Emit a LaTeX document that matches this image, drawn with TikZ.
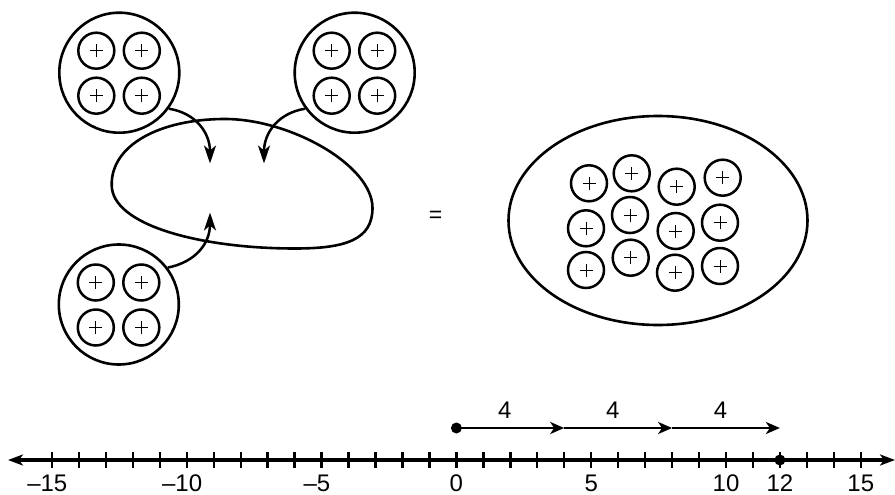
\documentclass[tikz,border=0pt]{standalone}
\usepackage{fontspec}
\setmainfont{Liberation Sans}
\usetikzlibrary{arrows.meta,shapes.geometric}
\begin{document}
\begin{tikzpicture}[x=1pt,y=-1pt,
  big/.style={circle,draw,line width=2.6pt,minimum size=120pt,inner sep=0pt},
  pc/.style={circle,draw,line width=2.5pt,minimum size=36pt,inner sep=0pt,
    path picture={\draw[line width=1pt]
      ([xshift=-6.5pt]path picture bounding box.center) -- ([xshift=6.5pt]path picture bounding box.center)
      ([yshift=-6.5pt]path picture bounding box.center) -- ([yshift=6.5pt]path picture bounding box.center);}},
  conn/.style={line width=2.5pt,-{Stealth[length=18pt,width=12pt,inset=5pt]}},
  jump/.style={line width=2.8pt,-{Stealth[length=14pt,width=12pt,inset=4pt]}},
  lbl/.style={font=\fontsize{24}{28}\selectfont,inner sep=0pt,anchor=base},
  dotc/.style={circle,fill,inner sep=0pt,minimum size=11pt},
]
\useasboundingbox (0,0) rectangle (895,495);

% three groups of four
\node[big] (A) at (119.3,72.7) {};
\node[big] (B) at (354.7,72.7) {};
\node[big] (C) at (118.8,304.5) {};
\foreach \g in {A,B,C}{
  \node[pc] (\g1) at ([shift={(-23,-22)}]\g) {};
  \node[pc] (\g2) at ([shift={(22.5,-22)}]\g) {};
  \node[pc] (\g3) at ([shift={(-23,23)}]\g) {};
  \node[pc] (\g4) at ([shift={(22.5,23)}]\g) {};
}

% blob
\draw[line width=2.6pt] (111.7,185)
  .. controls (111,145) and (160,119) .. (225,119)
  .. controls (290,119) and (372.5,165) .. (372.5,208)
  .. controls (372.5,240) and (345,248.5) .. (295,248.5)
  .. controls (200,248.5) and (111.7,225) .. cycle;

\coordinate (t1) at (210,163.5);
\coordinate (t2) at (264,163.5);
\coordinate (t3) at (210,212.5);
\draw[conn] (A.-36) .. controls (196,113) and (210,133) .. (t1);
\draw[conn] (B.216) .. controls (278,113) and (264,133) .. (t2);
\draw[conn] (C.37) .. controls (196,262) and (210,243) .. (t3);

% equals
\node[font=\fontsize{23}{26}\selectfont,inner sep=0pt] (eq) at (435.5,216.5) {=};

% big ellipse with twelve
\node[draw,ellipse,line width=2.6pt,minimum width=299pt,minimum height=209pt,inner sep=0pt] (E) at (658,220.5) {};
\foreach \n/\x/\y in {1/589/183.3,2/586/228.3,3/586/270,
                      4/631.7/173.3,5/630/215,6/630.7/257.7,
                      7/676.7/186.7,8/675.7/231,9/675/272.7,
                      10/722.7/177.7,11/720/222.7,12/720/266}{
  \node[pc] (e\n) at (\x,\y) {};
}

% number line
\coordinate (L) at (8,460);
\coordinate (R) at (895,460);
\draw[line width=3.2pt,{Stealth[length=15pt,width=11pt,inset=4pt]}-{Stealth[length=15pt,width=11pt,inset=4pt]}] (L) -- (R);
\foreach \k in {-15,...,15}{
  \draw[line width=2.4pt] (456.4+26.96*\k,452) -- (456.4+26.96*\k,468);
}
\foreach \k/\t in {-15/15,-10/10,-5/5}{
  \node[lbl] at (458.4+26.96*\k,491.5) {\llap{–}\t};
}
\foreach \k in {0,5,10,12,15}{
  \node[lbl] at (456.4+26.96*\k,491.5) {\k};
}
\node[dotc] (d12) at (779.9,460) {};

% jumps of 4
\node[dotc] (p0) at (456.4,428) {};
\coordinate (p4) at (564.2,428);
\coordinate (p8) at (672.1,428);
\coordinate (p12) at (779.9,428);
\draw[jump] (p0.center) -- (p4);
\draw[jump] (p4) -- (p8);
\draw[jump] (p8) -- (p12);
\node[lbl] at (504.9,418) {4};
\node[lbl] at (612.8,418) {4};
\node[lbl] at (720.6,418) {4};
\end{tikzpicture}
\end{document}
